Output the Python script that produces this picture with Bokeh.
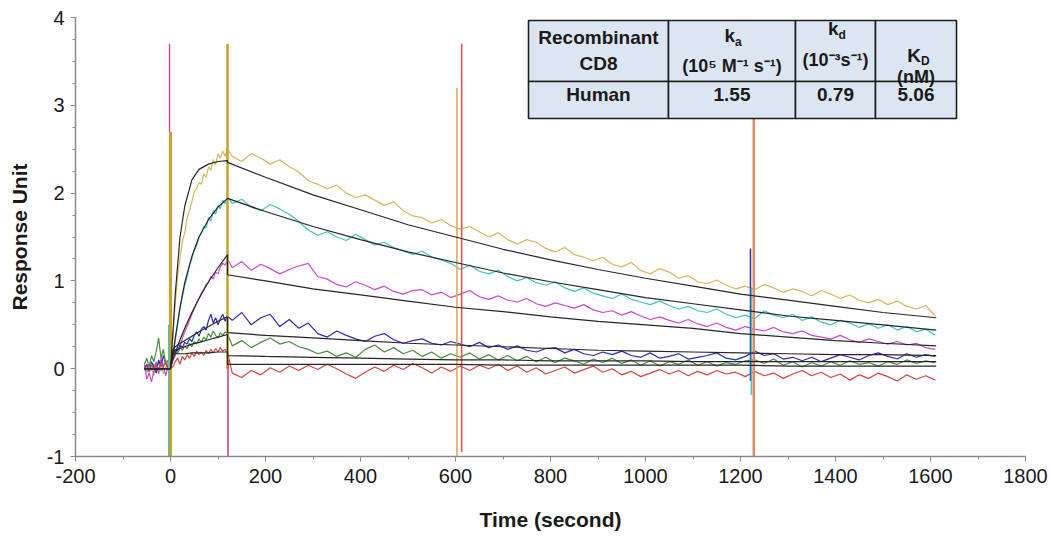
from bokeh.plotting import figure
from bokeh.models import Range1d, SingleIntervalTicker, PrintfTickFormatter
from bokeh.core.properties import value
from bokeh.embed import file_html
from bokeh.resources import INLINE

# ---------------- data ----------------
t_assoc = list(range(-55, 121, 5))      # baseline + association (s)
t_diss = list(range(130, 1611, 20))     # dissociation (s)

gold_assoc = [-0.02, 0.03, -0.05, 0.02, -0.08, 0.04, -0.03, 0.05, -0.06, 0.02, 0.08, 0.05,
              0.35, 0.75, 1.05, 1.25, 1.45, 1.55, 1.72, 1.80, 1.90, 2.02, 2.05, 2.12,
              2.10, 2.22, 2.18, 2.30, 2.26, 2.38, 2.32, 2.45, 2.40, 2.48, 2.42, 2.50]
gold_diss = [2.42, 2.36, 2.45, 2.40, 2.33, 2.38, 2.30, 2.24, 2.14, 2.10,
             2.05, 2.09, 2.00, 1.95, 1.98, 1.92, 1.86, 1.90, 1.80, 1.74,
             1.72, 1.66, 1.70, 1.63, 1.59, 1.62, 1.56, 1.50, 1.55, 1.47,
             1.42, 1.47, 1.44, 1.37, 1.33, 1.38, 1.30, 1.27, 1.23, 1.27,
             1.19, 1.16, 1.21, 1.12, 1.08, 1.14, 1.10, 1.03, 1.06, 0.99,
             0.97, 1.01, 0.95, 0.91, 0.94, 0.90, 0.96, 0.92, 0.87, 0.91,
             0.88, 0.83, 0.89, 0.85, 0.80, 0.84, 0.78, 0.75, 0.79, 0.73,
             0.77, 0.71, 0.68, 0.72, 0.60]

cyan_assoc = [0.02, -0.04, 0.05, -0.02, 0.06, 0.00, 0.08, -0.03, 0.04, 0.10, 0.02, 0.05,
              0.15, 0.32, 0.50, 0.68, 0.82, 0.95, 1.05, 1.18, 1.25, 1.35, 1.40, 1.50,
              1.55, 1.62, 1.60, 1.72, 1.68, 1.80, 1.76, 1.86, 1.82, 1.92, 1.88, 1.96]
cyan_diss = [1.88, 1.93, 1.84, 1.80, 1.87, 1.82, 1.76, 1.68, 1.58, 1.52,
             1.56, 1.50, 1.46, 1.53, 1.47, 1.41, 1.44, 1.38, 1.34, 1.30,
             1.34, 1.27, 1.24, 1.20, 1.13, 1.18, 1.11, 1.08, 1.12, 1.05,
             1.00, 1.04, 0.98, 0.95, 0.99, 0.92, 0.88, 0.92, 0.86, 0.83,
             0.80, 0.85, 0.79, 0.76, 0.73, 0.77, 0.72, 0.68, 0.71, 0.66,
             0.64, 0.68, 0.62, 0.58, 0.61, 0.57, 0.66, 0.61, 0.58, 0.62,
             0.55, 0.59, 0.53, 0.50, 0.55, 0.52, 0.47, 0.51, 0.46, 0.50,
             0.44, 0.48, 0.42, 0.45, 0.38]

magenta_assoc = [0.05, -0.12, -0.05, -0.15, -0.02, 0.08, -0.06, 0.12, 0.02, -0.08, 0.05, 0.00,
                 0.10, 0.15, 0.22, 0.25, 0.35, 0.42, 0.48, 0.55, 0.62, 0.68, 0.75, 0.80,
                 0.86, 0.90, 0.96, 0.98, 1.05, 1.02, 1.10, 1.08, 1.16, 1.20, 1.18, 1.25]
magenta_diss = [1.15, 1.22, 1.12, 1.19, 1.14, 1.08, 1.13, 1.17, 1.20, 1.05,
                1.02, 0.96, 0.93, 0.99, 0.95, 0.90, 0.94, 0.88, 0.85, 0.89,
                0.90, 0.84, 0.87, 0.81, 0.85, 0.89, 0.82, 0.79, 0.83, 0.78,
                0.76, 0.80, 0.74, 0.71, 0.75, 0.72, 0.69, 0.73, 0.67, 0.64,
                0.66, 0.61, 0.65, 0.60, 0.56, 0.59, 0.55, 0.52, 0.56, 0.51,
                0.48, 0.52, 0.47, 0.44, 0.48, 0.45, 0.43, 0.47, 0.42, 0.40,
                0.43, 0.38, 0.36, 0.34, 0.38, 0.33, 0.30, 0.34, 0.31, 0.28,
                0.31, 0.27, 0.29, 0.24, 0.22]

blue_assoc = [0.00, 0.05, -0.03, 0.08, 0.02, -0.05, 0.10, 0.03, 0.15, 0.06, 0.00, 0.02,
              0.18, 0.22, 0.20, 0.27, 0.24, 0.30, 0.28, 0.34, 0.31, 0.38, 0.42, 0.37,
              0.45, 0.48, 0.44, 0.55, 0.62, 0.52, 0.58, 0.50, 0.57, 0.62, 0.54, 0.60]
blue_diss = [0.55, 0.64, 0.50, 0.58, 0.62, 0.48, 0.56, 0.46, 0.52, 0.40,
             0.36, 0.43, 0.38, 0.34, 0.31, 0.37, 0.40, 0.33, 0.29, 0.32,
             0.34, 0.29, 0.27, 0.31, 0.28, 0.25, 0.30, 0.24, 0.27, 0.22,
             0.26, 0.21, 0.19, 0.23, 0.24, 0.18, 0.22, 0.17, 0.15, 0.19,
             0.16, 0.20, 0.15, 0.13, 0.18, 0.12, 0.14, 0.17, 0.11, 0.13,
             0.15, 0.18, 0.12, 0.10, 0.14, 0.20, 0.15, 0.17, 0.11, 0.13,
             0.09, 0.13, 0.08, 0.12, 0.16, 0.13, 0.10, 0.15, 0.18, 0.14,
             0.11, 0.17, 0.13, 0.16, 0.14]

green_assoc = [0.05, 0.12, 0.02, 0.15, 0.08, 0.20, 0.35, 0.12, 0.22, 0.05, 0.10, 0.03,
               0.15, 0.20, 0.17, 0.24, 0.21, 0.26, 0.23, 0.29, 0.25, 0.31, 0.28, 0.34,
               0.30, 0.36, 0.33, 0.40, 0.36, 0.43, 0.38, 0.35, 0.41, 0.38, 0.42, 0.40]
green_diss = [0.26, 0.32, 0.24, 0.30, 0.35, 0.28, 0.31, 0.25, 0.22, 0.17,
              0.20, 0.14, 0.18, 0.13, 0.22, 0.27, 0.19, 0.24, 0.17, 0.21,
              0.14, 0.19, 0.12, 0.17, 0.13, 0.18, 0.11, 0.16, 0.10, 0.15,
              0.09, 0.14, 0.08, 0.13, 0.07, 0.12, 0.09, 0.05, 0.11, 0.07,
              0.12, 0.06, 0.10, 0.04, 0.09, 0.03, 0.08, 0.05, 0.10, 0.04,
              0.08, 0.03, 0.07, 0.05, 0.09, 0.10, 0.06, 0.11, 0.04, 0.08,
              0.02, 0.07, 0.03, 0.08, 0.04, 0.09, 0.05, 0.07, 0.03, 0.08,
              0.05, 0.10, 0.06, 0.09, 0.07]

red_assoc = [0.00, 0.03, -0.02, 0.04, 0.00, 0.05, -0.01, 0.06, 0.02, 0.08, -0.02, 0.01,
             0.02, 0.08, 0.12, 0.05, 0.14, 0.10, 0.16, 0.12, 0.18, 0.14, 0.20, 0.16,
             0.19, 0.15, 0.21, 0.17, 0.22, 0.18, 0.23, 0.19, 0.24, 0.20, 0.22, 0.19]
red_diss = [-0.05, -0.10, -0.02, -0.07, 0.01, -0.04, 0.03, -0.02, 0.04, -0.01,
            0.05, 0.00, -0.06, -0.11, -0.04, 0.02, -0.03, 0.04, -0.01, 0.06,
            0.01, -0.05, 0.02, -0.03, 0.03, -0.02, 0.04, 0.00, 0.05, -0.02,
            0.03, -0.04, 0.01, -0.06, -0.02, 0.02, -0.05, -0.01, 0.03, -0.04,
            0.00, -0.07, -0.03, -0.09, -0.05, -0.01, -0.06, -0.02, -0.08, -0.03,
            -0.07, -0.02, -0.06, -0.04, -0.09, -0.03, -0.08, -0.05, -0.11, -0.06,
            -0.02, -0.08, -0.04, -0.10, -0.06, -0.13, -0.07, -0.11, -0.05, -0.09,
            -0.14, -0.07, -0.12, -0.08, -0.13]

# fitted curves (black)
fit_t_assoc = [-55, 0, 5, 10, 20, 30, 45, 60, 80, 100, 120]
fit_t_diss = [120, 200, 300, 400, 500, 600, 700, 800, 900, 1000, 1100, 1200, 1300, 1400, 1500, 1612]
gold_fit_a = [0, 0, 0.40, 0.85, 1.50, 1.85, 2.15, 2.27, 2.33, 2.36, 2.37]
gold_fit_d = [2.35, 2.18, 1.98, 1.81, 1.64, 1.50, 1.36, 1.24, 1.13, 1.03, 0.94, 0.85, 0.78, 0.71, 0.64, 0.58]
cyan_fit_a = [0, 0, 0.15, 0.35, 0.70, 0.98, 1.28, 1.50, 1.70, 1.84, 1.94]
cyan_fit_d = [1.94, 1.79, 1.62, 1.47, 1.33, 1.21, 1.09, 0.99, 0.90, 0.81, 0.74, 0.67, 0.60, 0.55, 0.50, 0.44]
magenta_fit_a = [0, 0, 0.10, 0.18, 0.33, 0.46, 0.64, 0.80, 0.99, 1.15, 1.30]
magenta_fit_d = [1.07, 1.00, 0.91, 0.84, 0.77, 0.70, 0.65, 0.59, 0.54, 0.50, 0.46, 0.40, 0.36, 0.32, 0.29, 0.26]
blue_fit_a = [0, 0, 0.22, 0.25, 0.29, 0.32, 0.37, 0.42, 0.48, 0.54, 0.59]
blue_fit_d = [0.41, 0.38, 0.35, 0.32, 0.29, 0.27, 0.25, 0.23, 0.21, 0.20, 0.19, 0.18, 0.17, 0.16, 0.16, 0.15]
green_fit_a = [0, 0, 0.20, 0.21, 0.23, 0.25, 0.28, 0.30, 0.33, 0.36, 0.39]
green_fit_d = [0.15, 0.14, 0.13, 0.12, 0.11, 0.10, 0.10, 0.09, 0.09, 0.09, 0.08, 0.08, 0.08, 0.08, 0.08, 0.08]
red_fit_a = [0, 0, 0.17, 0.17, 0.17, 0.17, 0.18, 0.18, 0.18, 0.19, 0.19]
red_fit_d = [0.05, 0.05, 0.05, 0.05, 0.05, 0.05, 0.04, 0.04, 0.04, 0.04, 0.04, 0.04, 0.03, 0.03, 0.03, 0.03]

# injection artefact spikes
spike_t = [-2, 0, -4, 120, 121, 603, 613, 1221, 1223, 1228]
spike_top = [3.7, 2.7, 0.5, 3.7, 0.1, 3.2, 3.7, 1.37, 0.92, 2.86]
spike_bottom = [-1.0, -1.0, -1.0, 0.0, -1.0, -1.0, -0.95, -0.14, -0.30, -1.0]

# table text
table_header_1 = ["Recombinant", "CD8"]
table_row = ["Human", "1.55", "0.79", "5.06"]
ka_unit = "(10\u2075 M\u207b\u00b9 s\u207b\u00b9)"
kd_unit = "(10\u207b\u00b3s\u207b\u00b9)"
KD_unit = "(nM)"

# ---------------- styles ----------------
C_GOLD, C_CYAN, C_MAG, C_BLUE, C_GREEN, C_RED = "#d8b55e", "#3fc4c4", "#cc48cc", "#2b2bb8", "#4a8c3f", "#d6453f"
spike_colors = ["#e0289c", "#c9a227", C_CYAN, "#c9a227", "#e03070", "#d4ad4a", "#e35050", C_BLUE, C_CYAN, "#d98c6c"]
spike_widths = [1.2, 3.0, 1.2, 2.5, 1.5, 1.5, 1.5, 1.5, 1.5, 2.5]
FONT = "Liberation Sans"

X0, X1, Y0, Y1 = -200, 1800, -1, 4
FL, FT, FW, FH = 75, 17, 950, 439   # plot frame position in the picture (px)
W, H = 1051, 538

def dx(px):
    return X0 + (px - FL) / FW * (X1 - X0)

def dy(py):
    return Y1 - (py - FT) / FH * (Y1 - Y0)

p = figure(width=W, height=H, output_backend="svg", toolbar_location=None,
           x_range=Range1d(X0, X1), y_range=Range1d(Y0, Y1),
           min_border_left=FL, min_border_right=W - FL - FW,
           min_border_top=FT, min_border_bottom=H - FT - FH)
p.outline_line_color = None
p.xgrid.visible = False
p.ygrid.visible = False
p.background_fill_color = "white"
p.border_fill_color = "white"

p.xaxis.ticker = SingleIntervalTicker(interval=200, num_minor_ticks=2)
p.yaxis.ticker = SingleIntervalTicker(interval=1, num_minor_ticks=4)
p.xaxis.formatter = PrintfTickFormatter(format="%d")
p.yaxis.formatter = PrintfTickFormatter(format="%d")
for ax in (p.xaxis, p.yaxis):
    ax.axis_line_color = "#8a8a8a"
    ax.axis_line_width = 1.5
    ax.major_tick_line_color = "#8a8a8a"
    ax.minor_tick_line_color = "#8a8a8a"
    ax.major_tick_in = 0
    ax.major_tick_out = 5
    ax.minor_tick_in = 0
    ax.minor_tick_out = 3
    ax.major_label_text_font = FONT
    ax.major_label_text_font_size = "20px"
    ax.major_label_text_color = "#1a1a1a"
    ax.axis_label_text_font = FONT
    ax.axis_label_text_font_size = "21px"
    ax.axis_label_text_font_style = "bold"
    ax.axis_label_text_color = "#1a1a1a"
p.xaxis.major_label_standoff = 7
p.yaxis.major_label_standoff = 6
p.xaxis.axis_label = "Time (second)"
p.yaxis.axis_label = "Response Unit"
p.xaxis.axis_label_standoff = 22
p.yaxis.axis_label_standoff = 13

t_all = t_assoc + t_diss
traces = [(gold_assoc, gold_diss, C_GOLD), (cyan_assoc, cyan_diss, C_CYAN),
          (magenta_assoc, magenta_diss, C_MAG), (blue_assoc, blue_diss, C_BLUE),
          (green_assoc, green_diss, C_GREEN), (red_assoc, red_diss, C_RED)]
for a, d, c in traces:
    p.line(t_all, a + d, line_color=c, line_width=1.2)

p.segment(x0=spike_t, y0=spike_bottom, x1=spike_t, y1=spike_top,
          line_color=spike_colors, line_width=spike_widths)

fits = [(gold_fit_a, gold_fit_d), (cyan_fit_a, cyan_fit_d), (magenta_fit_a, magenta_fit_d),
        (blue_fit_a, blue_fit_d), (green_fit_a, green_fit_d), (red_fit_a, red_fit_d)]
for fa, fd in fits:
    p.line(fit_t_assoc + fit_t_diss, fa + fd, line_color="#262626", line_width=1.2)

# ---------------- table ----------------
col_px = [528, 668, 795, 875, 956]
row_px = [20, 81, 118]
lefts, rights, tops, bottoms = [], [], [], []
for r in range(2):
    for c in range(4):
        lefts.append(dx(col_px[c])); rights.append(dx(col_px[c + 1]))
        tops.append(dy(row_px[r])); bottoms.append(dy(row_px[r + 1]))
p.quad(left=lefts, right=rights, top=tops, bottom=bottoms,
       fill_color="#dce6f2", line_color="#1e1e1e", line_width=1.6, level="overlay")

cx = [(col_px[i] + col_px[i + 1]) / 2 for i in range(4)]
big = dict(text_font=value(FONT), text_font_style="bold", text_color="#1a1a1a",
           text_baseline="middle", level="overlay")
p.text(x=[dx(cx[0]), dx(cx[0])], y=[dy(37), dy(63)], text=table_header_1,
       text_font_size="19px", text_align="center", **big)
p.text(x=[dx(cx[1]), dx(cx[2]), dx(cx[3])], y=[dy(65), dy(59), dy(76)],
       text=[ka_unit, kd_unit, KD_unit], text_font_size="18px", text_align="center", **big)
# k symbols with subscripts
p.text(x=[dx(cx[1] + 3), dx(cx[2] + 3), dx(cx[3] + 5)], y=[dy(35), dy(28), dy(55)],
       text=["k", "k", "K"], text_font_size="19px", text_align="right", **big)
p.text(x=[dx(cx[1] + 3), dx(cx[2] + 3), dx(cx[3] + 5)], y=[dy(41), dy(34), dy(60)],
       text=["a", "d", "D"], text_font_size="12px", text_align="left", **big)
p.text(x=[dx(c) for c in cx], y=[dy(94)] * 4, text=table_row,
       text_font_size="19px", text_align="center", **big)

open("out.html", "w").write(file_html(p, INLINE))
